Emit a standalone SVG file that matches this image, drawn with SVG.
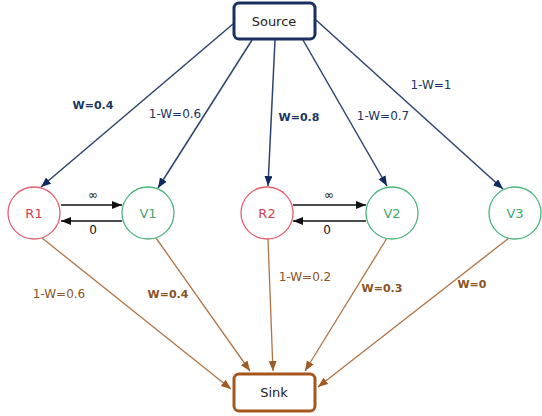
<svg xmlns="http://www.w3.org/2000/svg" width="542" height="416" viewBox="0 0 542 416">
<style>
  .lbl { font-family: "DejaVu Sans", "Liberation Sans", sans-serif; font-size: 12px; text-anchor: middle; }
  .b { font-weight: bold; font-size: 11px; }
  .navy { fill: #1d3560; }
  .brown { fill: #8a5426; }
  .box { fill: #ffffff; stroke-width: 3; }
  .boxtxt { font-family: "DejaVu Sans", "Liberation Sans", sans-serif; font-size: 13px; text-anchor: middle; fill: #222222; }
  .rc { fill: #ffffff; stroke: #e4606f; stroke-width: 1.3; }
  .vc { fill: #ffffff; stroke: #4db47e; stroke-width: 1.3; }
  .rt { font-family: "DejaVu Sans", "Liberation Sans", sans-serif; font-size: 13px; text-anchor: middle; fill: #d2404f; }
  .vt { font-family: "DejaVu Sans", "Liberation Sans", sans-serif; font-size: 13px; text-anchor: middle; fill: #3fa571; }
  .se { stroke: #2f4470; stroke-width: 1.5; fill: none; marker-end: url(#an); }
  .ke { stroke: #b07446; stroke-width: 1.3; fill: none; marker-end: url(#ab); }
  .be { stroke: #111111; stroke-width: 1.5; fill: none; marker-end: url(#ak); }
  .blk { font-family: "DejaVu Sans", "Liberation Sans", sans-serif; font-size: 12px; text-anchor: middle; fill: #111111; }
</style>
<defs>
  <marker id="an" markerUnits="userSpaceOnUse" markerWidth="12" markerHeight="10" refX="10" refY="4" orient="auto">
    <path d="M0,0 L10,4 L0,8 Z" fill="#0f2a5e"/>
  </marker>
  <marker id="ab" markerUnits="userSpaceOnUse" markerWidth="12" markerHeight="10" refX="10" refY="4" orient="auto">
    <path d="M0,0 L10,4 L0,8 Z" fill="#a05a22"/>
  </marker>
  <marker id="ak" markerUnits="userSpaceOnUse" markerWidth="12" markerHeight="10" refX="10" refY="4" orient="auto">
    <path d="M0,0 L10,4 L0,8 Z" fill="#111111"/>
  </marker>
</defs>
<rect width="542" height="416" fill="#ffffff"/>
<g id="connectors">
  <path class="se" d="M233,24 L41,187"/>
  <path class="se" d="M252,40 L158,188"/>
  <path class="se" d="M275,40 L268,186"/>
  <path class="se" d="M303,40 L387,186"/>
  <path class="se" d="M316,20 L503,189"/>
  <path class="ke" d="M42,238 L231,389"/>
  <path class="ke" d="M156,238 L250,371"/>
  <path class="ke" d="M268,239 L273,371"/>
  <path class="ke" d="M387,238 L305,371"/>
  <path class="ke" d="M509,238 L318,387"/>
  <path class="be" d="M61,205 L122,205"/>
  <path class="be" d="M122,221 L61,221"/>
  <path class="be" d="M293,205 L366,205"/>
  <path class="be" d="M366,221 L293,221"/>
  <text class="lbl b navy" x="93" y="109">W=0.4</text>
  <text class="lbl navy" x="175" y="118">1-W=0.6</text>
  <text class="lbl b navy" x="299" y="121">W=0.8</text>
  <text class="lbl navy" x="383" y="120">1-W=0.7</text>
  <text class="lbl navy" x="431" y="89">1-W=1</text>
  <text class="lbl brown" x="59" y="298">1-W=0.6</text>
  <text class="lbl b brown" x="168" y="298">W=0.4</text>
  <text class="lbl brown" x="305" y="281">1-W=0.2</text>
  <text class="lbl b brown" x="382" y="292">W=0.3</text>
  <text class="lbl b brown" x="472" y="288">W=0</text>
  <text class="blk" x="93" y="199">∞</text>
  <text class="blk" x="93" y="234">0</text>
  <text class="blk" x="329" y="199">∞</text>
  <text class="blk" x="327" y="234">0</text>
</g>
<g id="source">
  <rect class="box" x="234" y="3" width="81" height="36" rx="5" stroke="#17305e"/>
  <text class="boxtxt" x="274" y="26">Source</text>
</g>
<g id="sink">
  <rect class="box" x="234" y="374" width="81" height="37" rx="5" stroke="#a5561c"/>
  <text class="boxtxt" x="274" y="397">Sink</text>
</g>
<g id="R1">
  <circle class="rc" cx="34" cy="213" r="26"/>
  <text class="rt" x="34" y="218">R1</text>
</g>
<g id="V1">
  <circle class="vc" cx="148" cy="213" r="26"/>
  <text class="vt" x="148" y="218">V1</text>
</g>
<g id="R2">
  <circle class="rc" cx="267" cy="213" r="26"/>
  <text class="rt" x="267" y="218">R2</text>
</g>
<g id="V2">
  <circle class="vc" cx="392" cy="213" r="26"/>
  <text class="vt" x="392" y="218">V2</text>
</g>
<g id="V3">
  <circle class="vc" cx="515" cy="213" r="26"/>
  <text class="vt" x="515" y="218">V3</text>
</g>
</svg>
